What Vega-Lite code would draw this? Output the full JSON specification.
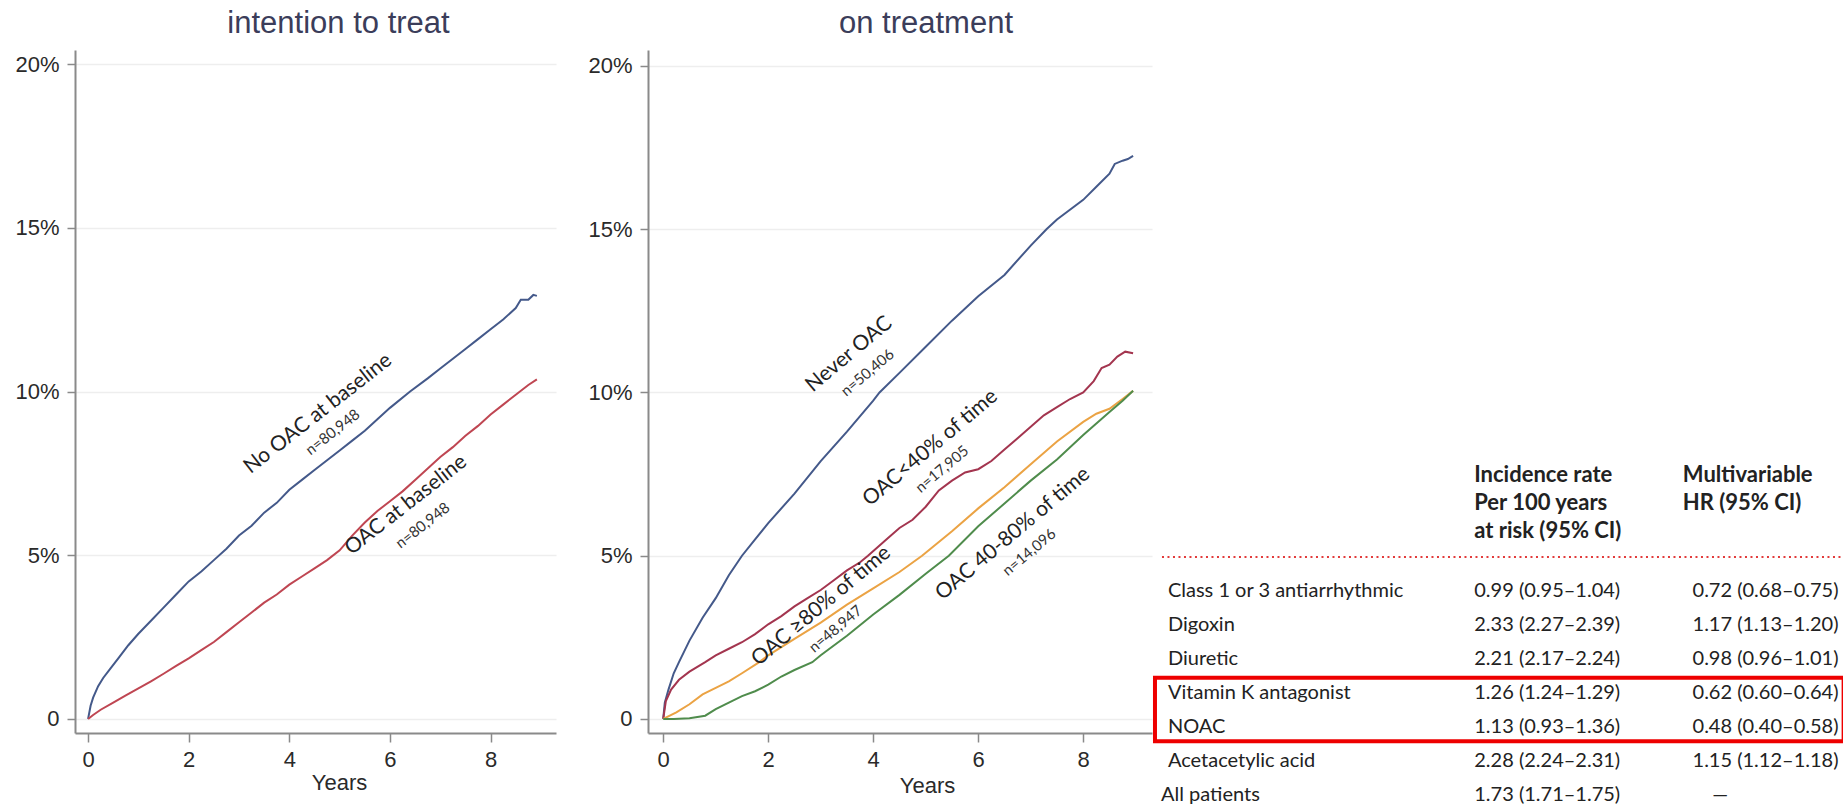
{
"$schema": "https://vega.github.io/schema/vega-lite/v6.json",
"background": "white",
"padding": {"left": 14, "top": 8, "right": 0, "bottom": 0},
"spacing": 0,
"datasets": {
"curves": [
{"panel":"itt","series":"No OAC at baseline","t":0,"pct":0},
{"panel":"itt","series":"No OAC at baseline","t":0.05,"pct":0.4},
{"panel":"itt","series":"No OAC at baseline","t":0.1,"pct":0.65},
{"panel":"itt","series":"No OAC at baseline","t":0.2,"pct":1.0},
{"panel":"itt","series":"No OAC at baseline","t":0.3,"pct":1.25},
{"panel":"itt","series":"No OAC at baseline","t":0.45,"pct":1.55},
{"panel":"itt","series":"No OAC at baseline","t":0.6,"pct":1.85},
{"panel":"itt","series":"No OAC at baseline","t":0.8,"pct":2.25},
{"panel":"itt","series":"No OAC at baseline","t":1.0,"pct":2.6},
{"panel":"itt","series":"No OAC at baseline","t":1.25,"pct":3.0},
{"panel":"itt","series":"No OAC at baseline","t":1.5,"pct":3.4},
{"panel":"itt","series":"No OAC at baseline","t":1.75,"pct":3.8},
{"panel":"itt","series":"No OAC at baseline","t":2.0,"pct":4.2},
{"panel":"itt","series":"No OAC at baseline","t":2.25,"pct":4.5},
{"panel":"itt","series":"No OAC at baseline","t":2.5,"pct":4.85},
{"panel":"itt","series":"No OAC at baseline","t":2.75,"pct":5.2},
{"panel":"itt","series":"No OAC at baseline","t":3.0,"pct":5.6},
{"panel":"itt","series":"No OAC at baseline","t":3.25,"pct":5.9},
{"panel":"itt","series":"No OAC at baseline","t":3.5,"pct":6.3},
{"panel":"itt","series":"No OAC at baseline","t":3.75,"pct":6.6},
{"panel":"itt","series":"No OAC at baseline","t":4.0,"pct":7.0},
{"panel":"itt","series":"No OAC at baseline","t":4.25,"pct":7.3},
{"panel":"itt","series":"No OAC at baseline","t":4.5,"pct":7.6},
{"panel":"itt","series":"No OAC at baseline","t":4.75,"pct":7.9},
{"panel":"itt","series":"No OAC at baseline","t":5.0,"pct":8.2},
{"panel":"itt","series":"No OAC at baseline","t":5.25,"pct":8.5},
{"panel":"itt","series":"No OAC at baseline","t":5.5,"pct":8.8},
{"panel":"itt","series":"No OAC at baseline","t":5.75,"pct":9.15},
{"panel":"itt","series":"No OAC at baseline","t":6.0,"pct":9.5},
{"panel":"itt","series":"No OAC at baseline","t":6.4,"pct":10.0},
{"panel":"itt","series":"No OAC at baseline","t":6.75,"pct":10.4},
{"panel":"itt","series":"No OAC at baseline","t":7.0,"pct":10.7},
{"panel":"itt","series":"No OAC at baseline","t":7.25,"pct":11.0},
{"panel":"itt","series":"No OAC at baseline","t":7.5,"pct":11.3},
{"panel":"itt","series":"No OAC at baseline","t":7.75,"pct":11.6},
{"panel":"itt","series":"No OAC at baseline","t":8.0,"pct":11.9},
{"panel":"itt","series":"No OAC at baseline","t":8.25,"pct":12.2},
{"panel":"itt","series":"No OAC at baseline","t":8.5,"pct":12.55},
{"panel":"itt","series":"No OAC at baseline","t":8.6,"pct":12.8},
{"panel":"itt","series":"No OAC at baseline","t":8.75,"pct":12.8},
{"panel":"itt","series":"No OAC at baseline","t":8.85,"pct":12.95},
{"panel":"itt","series":"No OAC at baseline","t":8.92,"pct":12.92},
{"panel":"itt","series":"OAC at baseline","t":0,"pct":0},
{"panel":"itt","series":"OAC at baseline","t":0.1,"pct":0.12},
{"panel":"itt","series":"OAC at baseline","t":0.25,"pct":0.28},
{"panel":"itt","series":"OAC at baseline","t":0.5,"pct":0.5},
{"panel":"itt","series":"OAC at baseline","t":0.75,"pct":0.72},
{"panel":"itt","series":"OAC at baseline","t":1.0,"pct":0.93},
{"panel":"itt","series":"OAC at baseline","t":1.25,"pct":1.15},
{"panel":"itt","series":"OAC at baseline","t":1.5,"pct":1.38},
{"panel":"itt","series":"OAC at baseline","t":1.75,"pct":1.62},
{"panel":"itt","series":"OAC at baseline","t":2.0,"pct":1.85},
{"panel":"itt","series":"OAC at baseline","t":2.25,"pct":2.1},
{"panel":"itt","series":"OAC at baseline","t":2.5,"pct":2.35},
{"panel":"itt","series":"OAC at baseline","t":2.75,"pct":2.65},
{"panel":"itt","series":"OAC at baseline","t":3.0,"pct":2.95},
{"panel":"itt","series":"OAC at baseline","t":3.25,"pct":3.25},
{"panel":"itt","series":"OAC at baseline","t":3.5,"pct":3.55},
{"panel":"itt","series":"OAC at baseline","t":3.75,"pct":3.8},
{"panel":"itt","series":"OAC at baseline","t":4.0,"pct":4.1},
{"panel":"itt","series":"OAC at baseline","t":4.25,"pct":4.35},
{"panel":"itt","series":"OAC at baseline","t":4.5,"pct":4.6},
{"panel":"itt","series":"OAC at baseline","t":4.75,"pct":4.85},
{"panel":"itt","series":"OAC at baseline","t":5.0,"pct":5.15},
{"panel":"itt","series":"OAC at baseline","t":5.25,"pct":5.6},
{"panel":"itt","series":"OAC at baseline","t":5.5,"pct":6.0},
{"panel":"itt","series":"OAC at baseline","t":5.75,"pct":6.35},
{"panel":"itt","series":"OAC at baseline","t":6.0,"pct":6.65},
{"panel":"itt","series":"OAC at baseline","t":6.25,"pct":6.95},
{"panel":"itt","series":"OAC at baseline","t":6.5,"pct":7.3},
{"panel":"itt","series":"OAC at baseline","t":6.75,"pct":7.65},
{"panel":"itt","series":"OAC at baseline","t":7.0,"pct":8.0},
{"panel":"itt","series":"OAC at baseline","t":7.25,"pct":8.3},
{"panel":"itt","series":"OAC at baseline","t":7.5,"pct":8.65},
{"panel":"itt","series":"OAC at baseline","t":7.75,"pct":8.95},
{"panel":"itt","series":"OAC at baseline","t":8.0,"pct":9.3},
{"panel":"itt","series":"OAC at baseline","t":8.25,"pct":9.6},
{"panel":"itt","series":"OAC at baseline","t":8.5,"pct":9.9},
{"panel":"itt","series":"OAC at baseline","t":8.75,"pct":10.2},
{"panel":"itt","series":"OAC at baseline","t":8.92,"pct":10.37},
{"panel":"ot","series":"Never OAC","t":0,"pct":0},
{"panel":"ot","series":"Never OAC","t":0.03,"pct":0.5},
{"panel":"ot","series":"Never OAC","t":0.1,"pct":0.9},
{"panel":"ot","series":"Never OAC","t":0.2,"pct":1.4},
{"panel":"ot","series":"Never OAC","t":0.3,"pct":1.74},
{"panel":"ot","series":"Never OAC","t":0.5,"pct":2.4},
{"panel":"ot","series":"Never OAC","t":0.75,"pct":3.1},
{"panel":"ot","series":"Never OAC","t":1.0,"pct":3.7},
{"panel":"ot","series":"Never OAC","t":1.25,"pct":4.4},
{"panel":"ot","series":"Never OAC","t":1.5,"pct":5.0},
{"panel":"ot","series":"Never OAC","t":1.75,"pct":5.5},
{"panel":"ot","series":"Never OAC","t":2.0,"pct":6.0},
{"panel":"ot","series":"Never OAC","t":2.5,"pct":6.9},
{"panel":"ot","series":"Never OAC","t":3.0,"pct":7.9},
{"panel":"ot","series":"Never OAC","t":3.5,"pct":8.8},
{"panel":"ot","series":"Never OAC","t":4.0,"pct":9.75},
{"panel":"ot","series":"Never OAC","t":4.12,"pct":10.0},
{"panel":"ot","series":"Never OAC","t":4.5,"pct":10.6},
{"panel":"ot","series":"Never OAC","t":5.0,"pct":11.4},
{"panel":"ot","series":"Never OAC","t":5.5,"pct":12.2},
{"panel":"ot","series":"Never OAC","t":6.0,"pct":12.95},
{"panel":"ot","series":"Never OAC","t":6.5,"pct":13.6},
{"panel":"ot","series":"Never OAC","t":7.0,"pct":14.5},
{"panel":"ot","series":"Never OAC","t":7.3,"pct":15.0},
{"panel":"ot","series":"Never OAC","t":7.5,"pct":15.3},
{"panel":"ot","series":"Never OAC","t":8.0,"pct":15.9},
{"panel":"ot","series":"Never OAC","t":8.25,"pct":16.3},
{"panel":"ot","series":"Never OAC","t":8.5,"pct":16.7},
{"panel":"ot","series":"Never OAC","t":8.6,"pct":17.0},
{"panel":"ot","series":"Never OAC","t":8.75,"pct":17.1},
{"panel":"ot","series":"Never OAC","t":8.85,"pct":17.15},
{"panel":"ot","series":"Never OAC","t":8.95,"pct":17.25},
{"panel":"ot","series":"OAC<40% of time","t":0,"pct":0},
{"panel":"ot","series":"OAC<40% of time","t":0.05,"pct":0.55},
{"panel":"ot","series":"OAC<40% of time","t":0.15,"pct":0.9},
{"panel":"ot","series":"OAC<40% of time","t":0.3,"pct":1.2},
{"panel":"ot","series":"OAC<40% of time","t":0.5,"pct":1.45},
{"panel":"ot","series":"OAC<40% of time","t":0.8,"pct":1.74},
{"panel":"ot","series":"OAC<40% of time","t":1.0,"pct":1.95},
{"panel":"ot","series":"OAC<40% of time","t":1.25,"pct":2.15},
{"panel":"ot","series":"OAC<40% of time","t":1.5,"pct":2.35},
{"panel":"ot","series":"OAC<40% of time","t":1.75,"pct":2.6},
{"panel":"ot","series":"OAC<40% of time","t":2.0,"pct":2.9},
{"panel":"ot","series":"OAC<40% of time","t":2.25,"pct":3.15},
{"panel":"ot","series":"OAC<40% of time","t":2.5,"pct":3.45},
{"panel":"ot","series":"OAC<40% of time","t":2.75,"pct":3.7},
{"panel":"ot","series":"OAC<40% of time","t":3.0,"pct":3.95},
{"panel":"ot","series":"OAC<40% of time","t":3.25,"pct":4.25},
{"panel":"ot","series":"OAC<40% of time","t":3.5,"pct":4.55},
{"panel":"ot","series":"OAC<40% of time","t":3.75,"pct":4.8},
{"panel":"ot","series":"OAC<40% of time","t":3.9,"pct":5.0},
{"panel":"ot","series":"OAC<40% of time","t":4.25,"pct":5.5},
{"panel":"ot","series":"OAC<40% of time","t":4.5,"pct":5.85},
{"panel":"ot","series":"OAC<40% of time","t":4.75,"pct":6.1},
{"panel":"ot","series":"OAC<40% of time","t":5.0,"pct":6.5},
{"panel":"ot","series":"OAC<40% of time","t":5.25,"pct":7.0},
{"panel":"ot","series":"OAC<40% of time","t":5.5,"pct":7.3},
{"panel":"ot","series":"OAC<40% of time","t":5.75,"pct":7.55},
{"panel":"ot","series":"OAC<40% of time","t":6.0,"pct":7.65},
{"panel":"ot","series":"OAC<40% of time","t":6.25,"pct":7.9},
{"panel":"ot","series":"OAC<40% of time","t":6.5,"pct":8.25},
{"panel":"ot","series":"OAC<40% of time","t":6.75,"pct":8.6},
{"panel":"ot","series":"OAC<40% of time","t":7.0,"pct":8.95},
{"panel":"ot","series":"OAC<40% of time","t":7.25,"pct":9.3},
{"panel":"ot","series":"OAC<40% of time","t":7.5,"pct":9.55},
{"panel":"ot","series":"OAC<40% of time","t":7.75,"pct":9.8},
{"panel":"ot","series":"OAC<40% of time","t":8.0,"pct":10.0},
{"panel":"ot","series":"OAC<40% of time","t":8.2,"pct":10.35},
{"panel":"ot","series":"OAC<40% of time","t":8.35,"pct":10.75},
{"panel":"ot","series":"OAC<40% of time","t":8.5,"pct":10.85},
{"panel":"ot","series":"OAC<40% of time","t":8.65,"pct":11.1},
{"panel":"ot","series":"OAC<40% of time","t":8.8,"pct":11.25},
{"panel":"ot","series":"OAC<40% of time","t":8.95,"pct":11.2},
{"panel":"ot","series":"OAC ≥80% of time","t":0,"pct":0},
{"panel":"ot","series":"OAC ≥80% of time","t":0.25,"pct":0.2},
{"panel":"ot","series":"OAC ≥80% of time","t":0.5,"pct":0.45},
{"panel":"ot","series":"OAC ≥80% of time","t":0.75,"pct":0.75},
{"panel":"ot","series":"OAC ≥80% of time","t":1.0,"pct":0.95},
{"panel":"ot","series":"OAC ≥80% of time","t":1.25,"pct":1.15},
{"panel":"ot","series":"OAC ≥80% of time","t":1.5,"pct":1.4},
{"panel":"ot","series":"OAC ≥80% of time","t":1.83,"pct":1.74},
{"panel":"ot","series":"OAC ≥80% of time","t":2.0,"pct":1.95},
{"panel":"ot","series":"OAC ≥80% of time","t":2.5,"pct":2.45},
{"panel":"ot","series":"OAC ≥80% of time","t":3.0,"pct":2.95},
{"panel":"ot","series":"OAC ≥80% of time","t":3.5,"pct":3.5},
{"panel":"ot","series":"OAC ≥80% of time","t":4.0,"pct":4.0},
{"panel":"ot","series":"OAC ≥80% of time","t":4.5,"pct":4.5},
{"panel":"ot","series":"OAC ≥80% of time","t":4.93,"pct":5.0},
{"panel":"ot","series":"OAC ≥80% of time","t":5.5,"pct":5.75},
{"panel":"ot","series":"OAC ≥80% of time","t":6.0,"pct":6.45},
{"panel":"ot","series":"OAC ≥80% of time","t":6.5,"pct":7.1},
{"panel":"ot","series":"OAC ≥80% of time","t":7.0,"pct":7.8},
{"panel":"ot","series":"OAC ≥80% of time","t":7.5,"pct":8.5},
{"panel":"ot","series":"OAC ≥80% of time","t":8.0,"pct":9.1},
{"panel":"ot","series":"OAC ≥80% of time","t":8.25,"pct":9.35},
{"panel":"ot","series":"OAC ≥80% of time","t":8.5,"pct":9.5},
{"panel":"ot","series":"OAC ≥80% of time","t":8.75,"pct":9.8},
{"panel":"ot","series":"OAC ≥80% of time","t":8.95,"pct":10.05},
{"panel":"ot","series":"OAC 40-80% of time","t":0,"pct":0},
{"panel":"ot","series":"OAC 40-80% of time","t":0.2,"pct":0.0},
{"panel":"ot","series":"OAC 40-80% of time","t":0.5,"pct":0.02},
{"panel":"ot","series":"OAC 40-80% of time","t":0.8,"pct":0.1},
{"panel":"ot","series":"OAC 40-80% of time","t":1.0,"pct":0.3},
{"panel":"ot","series":"OAC 40-80% of time","t":1.25,"pct":0.5},
{"panel":"ot","series":"OAC 40-80% of time","t":1.5,"pct":0.7},
{"panel":"ot","series":"OAC 40-80% of time","t":1.75,"pct":0.85},
{"panel":"ot","series":"OAC 40-80% of time","t":2.0,"pct":1.05},
{"panel":"ot","series":"OAC 40-80% of time","t":2.25,"pct":1.3},
{"panel":"ot","series":"OAC 40-80% of time","t":2.5,"pct":1.5},
{"panel":"ot","series":"OAC 40-80% of time","t":2.84,"pct":1.74},
{"panel":"ot","series":"OAC 40-80% of time","t":3.0,"pct":1.95},
{"panel":"ot","series":"OAC 40-80% of time","t":3.5,"pct":2.55},
{"panel":"ot","series":"OAC 40-80% of time","t":4.0,"pct":3.2},
{"panel":"ot","series":"OAC 40-80% of time","t":4.5,"pct":3.8},
{"panel":"ot","series":"OAC 40-80% of time","t":5.0,"pct":4.45},
{"panel":"ot","series":"OAC 40-80% of time","t":5.44,"pct":5.0},
{"panel":"ot","series":"OAC 40-80% of time","t":6.0,"pct":5.9},
{"panel":"ot","series":"OAC 40-80% of time","t":6.5,"pct":6.6},
{"panel":"ot","series":"OAC 40-80% of time","t":7.0,"pct":7.3},
{"panel":"ot","series":"OAC 40-80% of time","t":7.5,"pct":7.95},
{"panel":"ot","series":"OAC 40-80% of time","t":8.0,"pct":8.7},
{"panel":"ot","series":"OAC 40-80% of time","t":8.25,"pct":9.05},
{"panel":"ot","series":"OAC 40-80% of time","t":8.5,"pct":9.4},
{"panel":"ot","series":"OAC 40-80% of time","t":8.75,"pct":9.75},
{"panel":"ot","series":"OAC 40-80% of time","t":8.95,"pct":10.05}
],
"labels": [
{"panel":"itt","role":"name","text":"No OAC at baseline","t":4.57,"pct":9.32},
{"panel":"itt","role":"n","text":"n=80,948","t":4.86,"pct":8.76},
{"panel":"itt","role":"name","text":"OAC at baseline","t":6.32,"pct":6.53},
{"panel":"itt","role":"n","text":"n=80,948","t":6.65,"pct":5.91},
{"panel":"ot","role":"name","text":"Never OAC","t":3.54,"pct":11.17},
{"panel":"ot","role":"n","text":"n=50,406","t":3.89,"pct":10.61},
{"panel":"ot","role":"name","text":"OAC<40% of time","t":5.09,"pct":8.3},
{"panel":"ot","role":"n","text":"n=17,905","t":5.31,"pct":7.65},
{"panel":"ot","role":"name","text":"OAC ≥80% of time","t":3.01,"pct":3.46},
{"panel":"ot","role":"n","text":"n=48,947","t":3.28,"pct":2.76},
{"panel":"ot","role":"name","text":"OAC 40-80% of time","t":6.66,"pct":5.67},
{"panel":"ot","role":"n","text":"n=14,096","t":6.97,"pct":5.11}
],
"table": [
{"row":1,"drug":"Class 1 or 3 antiarrhythmic","ir":"0.99 (0.95–1.04)","hr":"0.72 (0.68–0.75)"},
{"row":2,"drug":"Digoxin","ir":"2.33 (2.27–2.39)","hr":"1.17 (1.13–1.20)"},
{"row":3,"drug":"Diuretic","ir":"2.21 (2.17–2.24)","hr":"0.98 (0.96–1.01)"},
{"row":4,"drug":"Vitamin K antagonist","ir":"1.26 (1.24–1.29)","hr":"0.62 (0.60–0.64)"},
{"row":5,"drug":"NOAC","ir":"1.13 (0.93–1.36)","hr":"0.48 (0.40–0.58)"},
{"row":6,"drug":"Acetacetylic acid","ir":"2.28 (2.24–2.31)","hr":"1.15 (1.12–1.18)"},
{"row":7,"drug":"All patients","ir":"1.73 (1.71–1.75)","hr":"—"}
],
"header": [
{"line":1,"col":"ir","text":"Incidence rate"},
{"line":2,"col":"ir","text":"Per 100 years"},
{"line":3,"col":"ir","text":"at risk (95% CI)"},
{"line":1,"col":"hr","text":"Multivariable"},
{"line":2,"col":"hr","text":"HR (95% CI)"}
]
},
"config": {
"view": {"stroke": null},
"axis": {"domainColor": "#8a8a8a", "domainWidth": 2, "tickColor": "#8a8a8a", "tickWidth": 1.5, "labelFont": "Liberation Sans", "labelFontSize": 22, "labelColor": "#2a2a2a", "titleFont": "Liberation Sans", "titleFontSize": 22, "titleFontWeight": "normal", "titleColor": "#2a2a2a", "gridColor": "#eeeeee", "gridWidth": 1.5},
"axisX": {"grid": false, "tickSize": 9, "labelPadding": 7},
"axisY": {"tickSize": 8, "labelPadding": 8},
"title": {"font": "Liberation Sans", "fontSize": 31, "fontWeight": "normal", "color": "#3b3d5a", "anchor": "middle", "frame": "group", "offset": 10, "baseline": "alphabetic"}
},
"hconcat": [
{"spacing": 31, "hconcat": [
{"width": 481, "height": 683,
 "title": {"text": "intention to treat", "dx": 23},
 "layer": [
  {"data": {"name": "curves"}, "transform": [{"filter": "datum.panel === 'itt'"}],
   "mark": {"type": "line", "strokeWidth": 2},
   "encoding": {
    "x": {"field": "t", "type": "quantitative", "scale": {"domain": [-0.26, 9.3], "nice": false, "zero": false}, "axis": {"values": [0,2,4,6,8], "title": "Years", "titleX": 264, "titleY": 49, "titleBaseline": "middle"}},
    "y": {"field": "pct", "type": "quantitative", "scale": {"domain": [-0.43, 20.43], "nice": false, "zero": false}, "axis": {"values": [0,5,10,15,20], "labelExpr": "datum.value === 0 ? '0' : datum.value + '%'", "title": null, "grid": true, "minExtent": 60, "maxExtent": 60}},
    "color": {"field": "series", "type": "nominal", "scale": {"domain": ["No OAC at baseline","OAC at baseline","Never OAC","OAC<40% of time","OAC ≥80% of time","OAC 40-80% of time"], "range": ["#44598a","#bf4652","#44598a","#a3354f","#eba344","#4f8c4c"]}, "legend": null}
   }},
  {"data": {"name": "labels"}, "transform": [{"filter": "datum.panel === 'itt' && datum.role === 'name'"}],
   "mark": {"type": "text", "angle": 322, "font": "Lato", "fontSize": 21, "fill": "#222222"},
   "encoding": {"x": {"field": "t", "type": "quantitative"}, "y": {"field": "pct", "type": "quantitative"}, "text": {"field": "text"}}},
  {"data": {"name": "labels"}, "transform": [{"filter": "datum.panel === 'itt' && datum.role === 'n'"}],
   "mark": {"type": "text", "angle": 322, "font": "Lato", "fontSize": 15, "fill": "#333333"},
   "encoding": {"x": {"field": "t", "type": "quantitative"}, "y": {"field": "pct", "type": "quantitative"}, "text": {"field": "text"}}}
 ]},
{"width": 504, "height": 683,
 "title": {"text": "on treatment", "dx": 26},
 "layer": [
  {"data": {"name": "curves"}, "transform": [{"filter": "datum.panel === 'ot'"}],
   "mark": {"type": "line", "strokeWidth": 2},
   "encoding": {
    "x": {"field": "t", "type": "quantitative", "scale": {"domain": [-0.29, 9.31], "nice": false, "zero": false}, "axis": {"values": [0,2,4,6,8], "title": "Years", "titleX": 279, "titleY": 52, "titleBaseline": "middle"}},
    "y": {"field": "pct", "type": "quantitative", "scale": {"domain": [-0.43, 20.49], "nice": false, "zero": false}, "axis": {"values": [0,5,10,15,20], "labelExpr": "datum.value === 0 ? '0' : datum.value + '%'", "title": null, "grid": true, "minExtent": 60, "maxExtent": 60}},
    "color": {"field": "series", "type": "nominal", "scale": {"domain": ["No OAC at baseline","OAC at baseline","Never OAC","OAC<40% of time","OAC ≥80% of time","OAC 40-80% of time"], "range": ["#44598a","#bf4652","#44598a","#a3354f","#eba344","#4f8c4c"]}, "legend": null}
   }},
  {"data": {"name": "labels"}, "transform": [{"filter": "datum.panel === 'ot' && datum.role === 'name'"}],
   "mark": {"type": "text", "angle": 320, "font": "Lato", "fontSize": 21, "fill": "#222222"},
   "encoding": {"x": {"field": "t", "type": "quantitative"}, "y": {"field": "pct", "type": "quantitative"}, "text": {"field": "text"}}},
  {"data": {"name": "labels"}, "transform": [{"filter": "datum.panel === 'ot' && datum.role === 'n'"}],
   "mark": {"type": "text", "angle": 320, "font": "Lato", "fontSize": 15, "fill": "#333333"},
   "encoding": {"x": {"field": "t", "type": "quantitative"}, "y": {"field": "pct", "type": "quantitative"}, "text": {"field": "text"}}}
 ]}
]},
{"width": 693, "height": 757,
 "resolve": {"scale": {"y": "independent"}},
 "layer": [
  {"data": {"values": [{"sep": 0}]},
   "mark": {"type": "rule", "stroke": "#e23b3b", "strokeWidth": 2, "strokeDash": [2, 3.5]},
   "encoding": {
    "x": {"datum": 1.44, "type": "quantitative", "scale": {"domain": [0, 100], "nice": false, "zero": false}, "axis": null},
    "x2": {"datum": 100},
    "y": {"field": "sep", "type": "quantitative", "scale": {"domain": [-14.91, 7.35], "reverse": true, "nice": false, "zero": false}, "axis": null}}},
  {"data": {"values": [{"top": 3.55, "bottom": 5.42}]},
   "mark": {"type": "rect", "filled": false, "stroke": "#ee0000", "strokeWidth": 4},
   "encoding": {
    "x": {"datum": 0.43, "type": "quantitative", "scale": {"domain": [0, 100], "nice": false, "zero": false}, "axis": null},
    "x2": {"datum": 99.8},
    "y": {"field": "top", "type": "quantitative", "scale": {"domain": [-14.91, 7.35], "reverse": true, "nice": false, "zero": false}, "axis": null},
    "y2": {"field": "bottom"}}},
  {"data": {"name": "table"}, "transform": [{"filter": "datum.row < 7"}],
   "mark": {"type": "text", "align": "left", "baseline": "middle", "font": "Lato", "fontSize": 20, "fill": "#222222"},
   "encoding": {
    "x": {"datum": 2.3, "type": "quantitative", "scale": {"domain": [0, 100], "nice": false, "zero": false}, "axis": null},
    "y": {"field": "row", "type": "quantitative", "scale": {"domain": [-14.91, 7.35], "reverse": true, "nice": false, "zero": false}, "axis": null},
    "text": {"field": "drug"}}},
  {"data": {"name": "table"}, "transform": [{"filter": "datum.row === 7"}],
   "mark": {"type": "text", "align": "left", "baseline": "middle", "font": "Lato", "fontSize": 20, "fill": "#222222"},
   "encoding": {
    "x": {"datum": 1.3, "type": "quantitative", "scale": {"domain": [0, 100], "nice": false, "zero": false}, "axis": null},
    "y": {"field": "row", "type": "quantitative", "scale": {"domain": [-14.91, 7.35], "reverse": true, "nice": false, "zero": false}, "axis": null},
    "text": {"field": "drug"}}},
  {"data": {"name": "table"},
   "mark": {"type": "text", "align": "left", "baseline": "middle", "font": "Lato", "fontSize": 20, "fill": "#222222"},
   "encoding": {
    "x": {"datum": 46.5, "type": "quantitative", "scale": {"domain": [0, 100], "nice": false, "zero": false}, "axis": null},
    "y": {"field": "row", "type": "quantitative", "scale": {"domain": [-14.91, 7.35], "reverse": true, "nice": false, "zero": false}, "axis": null},
    "text": {"field": "ir"}}},
  {"data": {"name": "table"}, "transform": [{"filter": "datum.row < 7"}],
   "mark": {"type": "text", "align": "left", "baseline": "middle", "font": "Lato", "fontSize": 20, "fill": "#222222"},
   "encoding": {
    "x": {"datum": 78.0, "type": "quantitative", "scale": {"domain": [0, 100], "nice": false, "zero": false}, "axis": null},
    "y": {"field": "row", "type": "quantitative", "scale": {"domain": [-14.91, 7.35], "reverse": true, "nice": false, "zero": false}, "axis": null},
    "text": {"field": "hr"}}},
  {"data": {"name": "table"}, "transform": [{"filter": "datum.row === 7"}],
   "mark": {"type": "text", "align": "center", "baseline": "middle", "font": "Lato", "fontSize": 20, "fill": "#222222"},
   "encoding": {
    "x": {"datum": 82.0, "type": "quantitative", "scale": {"domain": [0, 100], "nice": false, "zero": false}, "axis": null},
    "y": {"field": "row", "type": "quantitative", "scale": {"domain": [-14.91, 7.35], "reverse": true, "nice": false, "zero": false}, "axis": null},
    "text": {"field": "hr"}}},
  {"data": {"name": "header"}, "transform": [{"filter": "datum.col === 'ir'"}],
   "mark": {"type": "text", "align": "left", "baseline": "middle", "font": "Lato", "fontSize": 22, "fontWeight": "bold", "fill": "#222222"},
   "encoding": {
    "x": {"datum": 46.5, "type": "quantitative", "scale": {"domain": [0, 100], "nice": false, "zero": false}, "axis": null},
    "y": {"field": "line", "type": "quantitative", "scale": {"domain": [-14.18, 12.86], "reverse": true, "nice": false, "zero": false}, "axis": null},
    "text": {"field": "text"}}},
  {"data": {"name": "header"}, "transform": [{"filter": "datum.col === 'hr'"}],
   "mark": {"type": "text", "align": "left", "baseline": "middle", "font": "Lato", "fontSize": 22, "fontWeight": "bold", "fill": "#222222"},
   "encoding": {
    "x": {"datum": 76.6, "type": "quantitative", "scale": {"domain": [0, 100], "nice": false, "zero": false}, "axis": null},
    "y": {"field": "line", "type": "quantitative", "scale": {"domain": [-14.18, 12.86], "reverse": true, "nice": false, "zero": false}, "axis": null},
    "text": {"field": "text"}}}
 ]}
]
}
